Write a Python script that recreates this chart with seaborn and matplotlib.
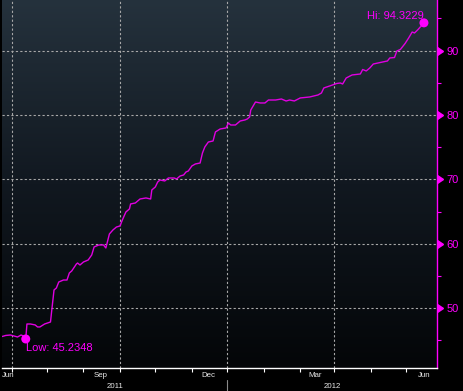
import numpy as np
import pandas as pd
import matplotlib
matplotlib.use('Agg')
import matplotlib.pyplot as plt
import matplotlib.dates as mdates
import matplotlib.transforms as mtransforms
from matplotlib.colors import LinearSegmentedColormap
from matplotlib.ticker import AutoMinorLocator, NullFormatter
import seaborn as sns

# Price series
dates = ['2011-05-24', '2011-05-27', '2011-05-31', '2011-06-03', '2011-06-06', '2011-06-09',
         '2011-06-11', '2011-06-13', '2011-06-14', '2011-06-17', '2011-06-21', '2011-06-23',
         '2011-06-25', '2011-06-29', '2011-07-04', '2011-07-05', '2011-07-07', '2011-07-09',
         '2011-07-11', '2011-07-15', '2011-07-18', '2011-07-20', '2011-07-22', '2011-07-26',
         '2011-07-27', '2011-07-29', '2011-08-01', '2011-08-05', '2011-08-08', '2011-08-10',
         '2011-08-14', '2011-08-18', '2011-08-20', '2011-08-23', '2011-08-26', '2011-08-29',
         '2011-09-01', '2011-09-03', '2011-09-06', '2011-09-09', '2011-09-10', '2011-09-14',
         '2011-09-18', '2011-09-23', '2011-09-27', '2011-09-28', '2011-10-01', '2011-10-03',
         '2011-10-05', '2011-10-09', '2011-10-12', '2011-10-17', '2011-10-19', '2011-10-22',
         '2011-10-25', '2011-10-27', '2011-10-29', '2011-11-01', '2011-11-04', '2011-11-08',
         '2011-11-10', '2011-11-12', '2011-11-15', '2011-11-19', '2011-11-21', '2011-11-25',
         '2011-11-30', '2011-12-02', '2011-12-04', '2011-12-08', '2011-12-12', '2011-12-16',
         '2011-12-18', '2011-12-20', '2011-12-21', '2011-12-23', '2011-12-25', '2011-12-29',
         '2012-01-02', '2012-01-05', '2012-01-11', '2012-01-16', '2012-01-20', '2012-01-23',
         '2012-01-27', '2012-02-01', '2012-02-09', '2012-02-16', '2012-02-19', '2012-02-21',
         '2012-02-26', '2012-03-03', '2012-03-06', '2012-03-08', '2012-03-11', '2012-03-16',
         '2012-03-23', '2012-03-25', '2012-03-28', '2012-03-31', '2012-04-03', '2012-04-09',
         '2012-04-15', '2012-04-17', '2012-04-21', '2012-04-23', '2012-04-26', '2012-04-30',
         '2012-05-03', '2012-05-06', '2012-05-08', '2012-05-11', '2012-05-16']
values = [45.62, 45.78, 45.85, 45.70, 45.54, 45.85, 45.70, 45.2348, 47.56, 47.56, 47.41, 47.10,
          47.10, 47.56, 47.87, 49.58, 52.84, 53.15, 54.08, 54.39, 54.39, 55.48, 55.79, 56.88,
          57.03, 56.72, 57.19, 57.50, 58.28, 59.52, 59.83, 59.83, 59.36, 61.54, 62.16, 62.62,
          62.78, 63.71, 64.95, 65.42, 66.20, 66.35, 66.97, 67.13, 66.97, 68.37, 68.84, 69.61,
          69.92, 69.77, 70.23, 70.23, 70.08, 70.54, 70.70, 71.16, 71.32, 72.10, 72.41, 72.56,
          74.12, 75.05, 75.82, 75.98, 77.38, 77.84, 78.00, 78.77, 78.46, 78.46, 79.08, 79.24,
          79.39, 79.70, 80.79, 81.41, 82.03, 81.88, 81.88, 82.34, 82.34, 82.50, 82.19, 82.34,
          82.19, 82.66, 82.81, 83.12, 83.43, 84.21, 84.52, 84.91, 84.98, 84.83, 85.76, 86.23,
          86.38, 87.08, 86.85, 87.31, 87.93, 88.17, 88.40, 88.87, 88.94, 89.95, 90.19, 91.12,
          91.97, 92.90, 92.75, 93.29, 94.3229]

low_date, low_value = '2011-06-13', 45.2348
hi_date, hi_value = '2012-05-16', 94.3229

month_labels = ['Jun', 'Sep', 'Dec', 'Mar', 'Jun']
label_dates = ['2011-06-01', '2011-09-01', '2011-12-01', '2012-03-01', '2012-06-01']
year_labels = ['2011', '2012']
year_split = '2011-12-01'
y_ticks = [50, 60, 70, 80, 90]

df = pd.DataFrame({'date': pd.to_datetime(dates), 'value': values})
ext = pd.DataFrame({'date': pd.to_datetime([low_date, hi_date]), 'value': [low_value, hi_value]})

sns.set_theme(style='dark')
plt.rcParams['font.family'] = ['Liberation Sans', 'DejaVu Sans']

MAG = '#ff00ff'
LINE = '#e100e1'

fig = plt.figure(figsize=(4.63, 3.91), dpi=100, facecolor='black')
ax = fig.add_axes([2 / 463, 22.7 / 391, 435.3 / 463, 368.3 / 391])
ax.set_facecolor('black')

# dark slate gradient background
cmap = LinearSegmentedColormap.from_list('bg', ['#040608', '#111820', '#25323d'])
grad = np.linspace(0, 1, 256).reshape(-1, 1)
ax.imshow(grad, cmap=cmap, aspect='auto', extent=[0, 1, 0, 1], transform=ax.transAxes,
          origin='lower', zorder=0)

sns.lineplot(data=df, x='date', y='value', color=LINE, linewidth=1.0, ax=ax, zorder=3)
sns.scatterplot(data=ext, x='date', y='value', color=MAG, s=42, edgecolor='none', ax=ax, zorder=4)

ax.annotate(f'Hi: {hi_value}', (pd.Timestamp(hi_date), hi_value), xytext=(0, 3),
            textcoords='offset points', ha='right', va='baseline', color=MAG, fontsize=8)
ax.annotate(f'Low: {low_value}', (pd.Timestamp(low_date), low_value), xytext=(0, -3),
            textcoords='offset points', ha='left', va='top', color=MAG, fontsize=8)

x0, x1 = pd.Timestamp('2011-05-23 20:00'), pd.Timestamp('2012-05-27 08:00')
ax.set_xlim(x0, x1)
ax.set_ylim(40.68, 97.87)
ax.set_xlabel('')
ax.set_ylabel('')

# right value axis
ax.yaxis.tick_right()
ax.set_yticks(y_ticks)
ax.yaxis.set_minor_locator(AutoMinorLocator(2))
ax.tick_params(axis='y', which='major', colors=MAG, labelsize=8, length=0, pad=6.5)
ax.tick_params(axis='y', which='minor', colors=MAG, length=3, width=0.8, direction='out', right=True, left=False)
ax.plot(np.ones(len(y_ticks)), y_ticks, transform=ax.get_yaxis_transform(), ls='none',
        marker=9, ms=6, color=MAG, clip_on=False, zorder=5)

# date axis
ax.xaxis.set_major_locator(mdates.MonthLocator(bymonth=[3, 6, 9, 12]))
ax.xaxis.set_minor_locator(mdates.MonthLocator())
ax.xaxis.set_major_formatter(NullFormatter())
ax.tick_params(axis='x', which='both', colors='white', length=3, width=0.8, direction='out', bottom=True)

ax.grid(True, which='major', axis='both', color='#a8a8a8', linestyle=(0, (2, 2)), linewidth=0.8, zorder=1)

for side in ['top', 'left']:
    ax.spines[side].set_visible(False)
ax.spines['right'].set_color(MAG)
ax.spines['right'].set_linewidth(1.0)
ax.spines['bottom'].set_color('white')
ax.spines['bottom'].set_linewidth(1.0)

xt = ax.get_xaxis_transform()
shifted = mtransforms.offset_copy(xt, fig=fig, x=-19, y=0, units='dots')
for i, (lab, d) in enumerate(zip(month_labels, label_dates)):
    if i == 0:
        ax.text(0.0, -0.0197, lab, transform=ax.transAxes, ha='left', va='center',
                color='#e8e8e8', fontsize=5.7)
    else:
        ax.text(pd.Timestamp(d), -0.0197, lab, transform=shifted, ha='center', va='center',
                color='#e8e8e8', fontsize=5.7, clip_on=False)

split = mdates.date2num(pd.Timestamp(year_split))
lo, hi = ax.get_xlim()
for lab, (a, b) in zip(year_labels, [(lo, split), (split, hi)]):
    ax.text((a + b) / 2, -0.049, lab, transform=xt, ha='center', va='center',
            color='#e8e8e8', fontsize=5.7, clip_on=False)
ax.plot([split, split], [-0.032, -0.062], transform=xt, color='#8a8a8a', lw=0.8, clip_on=False)

fig.savefig('out.png', dpi=100, facecolor='black')
